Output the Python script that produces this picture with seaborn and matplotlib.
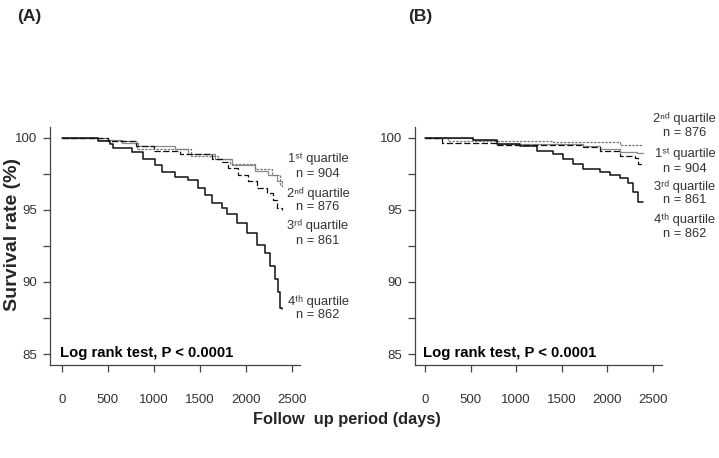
import matplotlib
matplotlib.use("Agg")
import matplotlib.pyplot as plt
import seaborn as sns
from matplotlib.ticker import FixedLocator

# ---------------------------------------------------------------------------
# DATA
# ---------------------------------------------------------------------------
# Panel A
a_q1_days = [0, 390, 650, 830, 1230, 1370, 1660, 1850, 2100, 2240, 2340, 2390]
a_q1_surv = [100, 99.85, 99.65, 99.4, 99.25, 98.9, 98.55, 98.1, 97.7, 97.4, 97.0, 96.9]

a_q2_days = [0, 500, 800, 1000, 1280, 1630, 1740, 1800, 1910, 2020, 2120, 2230, 2290, 2340, 2390]
a_q2_surv = [100, 99.75, 99.4, 99.1, 98.9, 98.55, 98.3, 97.9, 97.4, 97.0, 96.5, 96.2, 95.7, 95.1, 95.0]

a_q3_days = [0, 500, 820, 1400, 1700, 1830, 2100, 2280, 2370, 2390]
a_q3_surv = [100, 99.8, 99.25, 98.75, 98.55, 98.2, 97.85, 97.4, 96.7, 96.6]

a_q4_days = [0, 390, 520, 555, 760, 880, 1010, 1090, 1230, 1370, 1480, 1550, 1630,
             1740, 1790, 1900, 2010, 2120, 2205, 2260, 2315, 2350, 2370, 2390]
a_q4_surv = [100, 99.8, 99.6, 99.3, 99.0, 98.55, 98.1, 97.6, 97.25, 97.05, 96.55, 96.0, 95.5,
             95.1, 94.75, 94.1, 93.4, 92.6, 92.0, 91.1, 90.2, 89.3, 88.2, 88.1]

# Panel B
b_q1_days = [0, 530, 790, 1730, 1920, 2140, 2330, 2390]
b_q1_surv = [100, 99.85, 99.57, 99.4, 99.2, 99.0, 98.95, 98.95]

b_q2_days = [0, 250, 1400, 2140, 2390]
b_q2_surv = [100, 99.8, 99.68, 99.5, 99.5]

b_q3_days = [0, 185, 790, 1730, 1920, 2140, 2300, 2340, 2390]
b_q3_surv = [100, 99.65, 99.5, 99.35, 99.1, 98.75, 98.6, 98.2, 98.2]

b_q4_days = [0, 530, 790, 1040, 1230, 1400, 1510, 1620, 1730, 1920, 2030, 2140,
             2230, 2280, 2340, 2390]
b_q4_surv = [100, 99.85, 99.6, 99.45, 99.1, 98.9, 98.55, 98.2, 97.85, 97.6, 97.4, 97.2,
             96.85, 96.25, 95.55, 95.55]

quartile_names = ["1ˢᵗ quartile", "2ⁿᵈ quartile", "3ʳᵈ quartile", "4ᵗʰ quartile"]
quartile_n = ["n = 904", "n = 876", "n = 861", "n = 862"]

x_ticks = [0, 500, 1000, 1500, 2000, 2500]
y_ticks = [85, 90, 95, 100]
y_minor = [87.5, 92.5, 97.5]

# ---------------------------------------------------------------------------
# STYLE
# ---------------------------------------------------------------------------
sns.set_style("ticks")
plt.rcParams["font.family"] = ["Liberation Sans Narrow", "Liberation Sans", "DejaVu Sans"]

BOLD = ["Liberation Sans", "DejaVu Sans"]
LABEL_FAM = ["Liberation Sans", "DejaVu Sans"]
GREY_TXT = "#333333"
LAB_FS = 9.3

STYLES = {
    "q1": dict(color="#8a8a8a", linestyle="-", linewidth=0.9),
    "q2": dict(color="#111111", linestyle=(0, (5, 2)), linewidth=0.9),
    "q3": dict(color="#7a7a7a", linestyle=(0, (2, 1)), linewidth=0.9),
    "q4": dict(color="#111111", linestyle="-", linewidth=1.1),
}

fig = plt.figure(figsize=(7.19, 4.58), dpi=100)
ax_a = fig.add_axes([0.0695, 0.203, 0.3477, 0.520])
ax_b = fig.add_axes([0.5772, 0.203, 0.3435, 0.520])


def style_axis(ax, xlim):
    ax.set_xlim(*xlim)
    ax.set_ylim(84.24, 100.76)
    for s in ["top", "right"]:
        ax.spines[s].set_visible(False)
    for s in ["left", "bottom"]:
        ax.spines[s].set_color("#444444")
        ax.spines[s].set_linewidth(0.9)
    ax.xaxis.set_major_locator(FixedLocator(x_ticks))
    ax.yaxis.set_major_locator(FixedLocator(y_ticks))
    ax.yaxis.set_minor_locator(FixedLocator(y_minor))
    ax.tick_params(axis="x", which="major", direction="out", length=5, width=0.9,
                   color="#444444", labelsize=9.5, labelcolor=GREY_TXT, pad=16)
    ax.tick_params(axis="y", which="both", direction="out", length=5, width=0.9,
                   color="#444444", labelsize=9.5, labelcolor=GREY_TXT, pad=4)
    ax.set_xlabel("")
    ax.set_ylabel("")


def draw(ax, days, surv, key):
    sns.lineplot(x=days, y=surv, ax=ax, drawstyle="steps-post", estimator=None,
                 **STYLES[key])


# Panel A
draw(ax_a, a_q1_days, a_q1_surv, "q1")
draw(ax_a, a_q3_days, a_q3_surv, "q3")
draw(ax_a, a_q2_days, a_q2_surv, "q2")
draw(ax_a, a_q4_days, a_q4_surv, "q4")
style_axis(ax_a, (-130, 2587))

# Panel B
draw(ax_b, b_q1_days, b_q1_surv, "q1")
draw(ax_b, b_q2_days, b_q2_surv, "q3")
draw(ax_b, b_q3_days, b_q3_surv, "q2")
draw(ax_b, b_q4_days, b_q4_surv, "q4")
style_axis(ax_b, (-110, 2600))


def put_labels(ax, x, rows):
    for i, y1, y2 in rows:
        ax.text(x, y1, quartile_names[i], ha="center", va="center", fontsize=LAB_FS,
                color=GREY_TXT, family=LABEL_FAM, clip_on=False)
        ax.text(x, y2, quartile_n[i], ha="center", va="center", fontsize=LAB_FS,
                color=GREY_TXT, family=LABEL_FAM, clip_on=False)


put_labels(ax_a, 2783, [(0, 98.55, 97.5), (1, 96.15, 95.2), (2, 93.95, 92.85), (3, 88.65, 87.7)])
put_labels(ax_b, 2851, [(1, 101.37, 100.34), (0, 98.9, 97.87), (2, 96.65, 95.7), (3, 94.3, 93.35)])

for ax in (ax_a, ax_b):
    ax.text(-20, 85.1, "Log rank test, P < 0.0001", ha="left", va="center",
            fontsize=10.7, fontweight="bold", family=BOLD, color="black")

fig.text(0.017, 0.489, "Survival rate (%)", rotation=90, ha="center", va="center",
         fontsize=14, fontweight="bold", family=BOLD)
fig.text(0.483, 0.083, "Follow  up period (days)", ha="center", va="center",
         fontsize=11.8, fontweight="bold", family=BOLD)
fig.text(0.040, 0.965, "(A)", ha="center", va="center", fontsize=12.5, fontweight="bold")
fig.text(0.585, 0.965, "(B)", ha="center", va="center", fontsize=12.5, fontweight="bold")

fig.savefig("out.png", dpi=100)
plt.close(fig)
